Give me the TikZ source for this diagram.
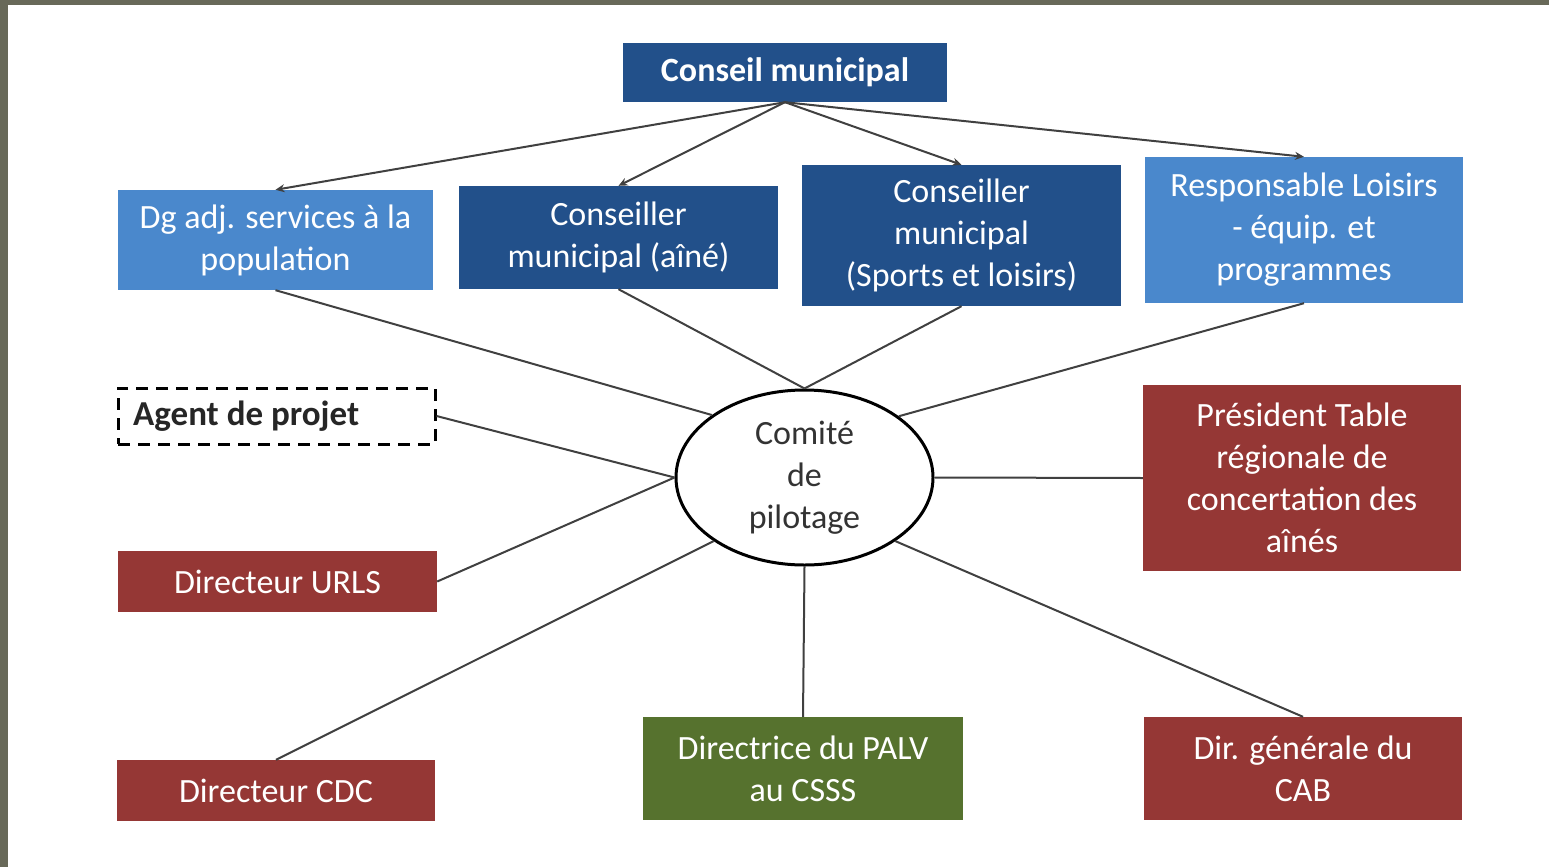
\documentclass[tikz,border=0pt]{standalone}
\usepackage{fontspec}
\setmainfont{Carlito}
\usetikzlibrary{shapes.geometric,arrows.meta}
\definecolor{frame}{HTML}{686959}
\definecolor{dblue}{HTML}{22508A}
\definecolor{lblue}{HTML}{4A88CC}
\definecolor{dred}{HTML}{953735}
\definecolor{dgreen}{HTML}{56722E}
\definecolor{lnk}{HTML}{404040}
\tikzset{
  box/.style={rectangle, inner sep=0pt, align=center, text=white,
    font=\fontsize{34}{42}\selectfont},
  darkbox/.style={box, fill=dblue},
  lightbox/.style={box, fill=lblue},
  redbox/.style={box, fill=dred},
  greenbox/.style={box, fill=dgreen},
  link/.style={draw=lnk, line width=2pt},
  arr/.style={link, -{Stealth[length=9pt,width=8pt]}},
}
\begin{document}
\begin{tikzpicture}[x=1pt,y=-1pt]
\useasboundingbox (0,0) rectangle (1549,867);
\fill[frame] (0,0) rectangle (1549,867);
\fill[white] (8,5) rectangle (1549,867);

\node[darkbox, minimum width=324pt, minimum height=59pt, font=\fontsize{34}{42}\selectfont\bfseries] (cm) at (785,72.5) {Conseil municipal};

\node[lightbox, minimum width=315pt, minimum height=100pt] (dg) at (275.5,240) {Dg adj. services à la\\population};
\node[darkbox, minimum width=319pt, minimum height=103pt] (aine) at (618.5,237.5) {Conseiller\\municipal (aîné)};
\node[darkbox, minimum width=319pt, minimum height=141pt] (sport) at (961.5,235.5) {Conseiller\\municipal\\(Sports et loisirs)};
\node[lightbox, minimum width=318pt, minimum height=146pt] (resp) at (1304,230) {Responsable Loisirs\\- équip. et\\programmes};

\node[rectangle, draw=black, line width=3pt, dash pattern=on 12pt off 8pt, minimum width=317pt, minimum height=56pt, inner sep=0pt] (agent) at (276.5,416) {};
\node[anchor=west, inner sep=0pt, font=\fontsize{35}{42}\selectfont\bfseries, text=black!85] (agenttxt) at (133,416) {Agent de projet};

\node[ellipse, draw=black, line width=3pt, fill=white, minimum width=257pt, minimum height=175pt, inner sep=0pt, align=center, text=black!80, font=\fontsize{34}{42}\selectfont] (cp) at (804.5,477.5) {Comité\\de\\pilotage};

\node[redbox, minimum width=318pt, minimum height=186pt] (pres) at (1302,478) {Président Table\\régionale de\\concertation des\\aînés};
\node[redbox, minimum width=319pt, minimum height=61pt] (urls) at (277.5,581.5) {Directeur URLS};
\node[redbox, minimum width=318pt, minimum height=61pt] (cdc) at (276,790.5) {Directeur CDC};
\node[greenbox, minimum width=320pt, minimum height=103pt] (palv) at (803,768.5) {Directrice du PALV\\au CSSS};
\node[redbox, minimum width=318pt, minimum height=103pt] (cab) at (1303,768.5) {Dir. générale du\\CAB};

\draw[arr] (cm.south) -- (dg.north);
\draw[arr] (cm.south) -- (aine.north);
\draw[arr] (cm.south) -- (sport.north);
\draw[arr] (cm.south) -- (resp.north);

\draw[link] (dg.south) -- (cp.146);
\draw[link] (aine.south) -- (cp.north);
\draw[link] (sport.south) -- (cp.north);
\draw[link] (resp.south) -- (cp.33);
\draw[link] (agent.east) -- (cp.west);
\draw[link] (urls.east) -- (cp.west);
\draw[link] (cdc.north) -- (cp.215);
\draw[link] (palv.north) -- (cp.south);
\draw[link] (cab.north) -- (cp.325);
\draw[link] (pres.west) -- (cp.east);
\end{tikzpicture}
\end{document}
